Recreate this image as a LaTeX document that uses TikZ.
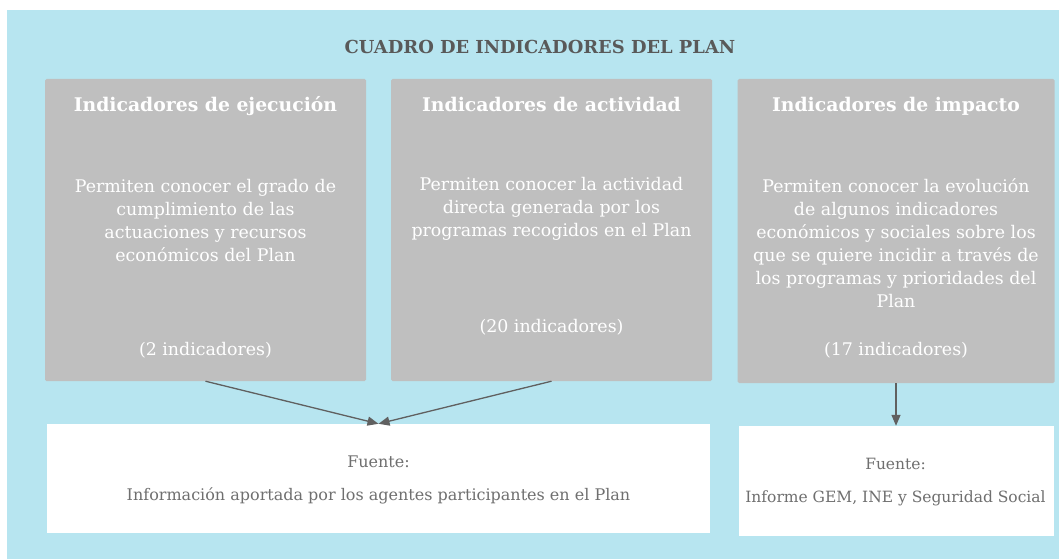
\documentclass[tikz,border=0pt]{standalone}
\usepackage{fontspec}
\setmainfont{DejaVu Serif}
\usepackage{xcolor}
\usetikzlibrary{positioning, arrows.meta, calc}
\definecolor{fondo}{HTML}{B7E5F0}
\definecolor{gris}{HTML}{BFBFBF}
\definecolor{grisosc}{HTML}{595959}
\definecolor{gristxt}{HTML}{6F6F6F}
\definecolor{flecha}{HTML}{606060}

\begin{document}
\begin{tikzpicture}[x=1pt, y=-1pt,
    caja/.style={rectangle, fill=gris, rounded corners=1.5pt, inner sep=0pt},
    fuente/.style={rectangle, fill=white, inner sep=0pt},
    cabecera/.style={text=white, anchor=base, inner sep=0pt, font=\fontsize{18.8}{22}\selectfont\bfseries},
    cuerpo/.style={text=white, align=center, inner sep=0pt, font=\fontsize{17.4}{23}\selectfont},
    texto/.style={text=gristxt, align=center, inner sep=0pt, font=\fontsize{16}{33}\selectfont},
    conector/.style={-{Triangle[length=11pt, width=9pt]}, draw=flecha, fill=flecha, line width=1.3pt}]
    \useasboundingbox (0,0) rectangle (1059,559);
    \fill[fondo] (7,10) rectangle (1059,559);

    \node (cuadro) at (540,47) [text=grisosc, font=\fontsize{17.9}{20}\selectfont\bfseries] {CUADRO DE INDICADORES DEL PLAN};

    \node (ejec) at (205.5,230) [caja, minimum width=321, minimum height=302] {};
    \node (act) at (551.5,230) [caja, minimum width=321, minimum height=302] {};
    \node (imp) at (896,231) [caja, minimum width=317, minimum height=304] {};

    \node (ejecT) at (205.5,112) [cabecera] {Indicadores de ejecución};
    \node (actT) at (551.5,112) [cabecera] {Indicadores de actividad};
    \node (impT) at (896,112) [cabecera] {Indicadores de impacto};

    \node (ejecD) at (205.5,220.5) [cuerpo] {Permiten conocer el grado de\\cumplimiento de las\\actuaciones y recursos\\económicos del Plan};
    \node (actD) at (551.5,209) [cuerpo] {Permiten conocer la actividad\\directa generada por los\\programas recogidos en el Plan};
    \node (impD) at (896,243) [cuerpo] {Permiten conocer la evolución\\de algunos indicadores\\económicos y sociales sobre los\\que se quiere incidir a través de\\los programas y prioridades del\\Plan};

    \node (ejecN) at (205.5,350) [cuerpo] {(2 indicadores)};
    \node (actN) at (551.5,327) [cuerpo] {(20 indicadores)};
    \node (impN) at (896,350) [cuerpo] {(17 indicadores)};

    \node (fuente1) at (378.5,478.5) [fuente, minimum width=663, minimum height=109] {};
    \node (fuente2) at (896,481) [fuente, minimum width=315, minimum height=110] {};

    \node (fuente1T) at (378.5,479.5) [texto] {Fuente:\\Información aportada por los agentes participantes en el Plan};
    \node (fuente2T) at (895.5,482.5) [texto, font=\fontsize{15.5}{33}\selectfont] {Fuente:\\Informe GEM, INE y Seguridad Social};

    \draw[conector] (ejec.south) -- (fuente1.north);
    \draw[conector] (act.south) -- (fuente1.north);
    \draw[conector] (imp.south) -- (fuente2.north);
\end{tikzpicture}
\end{document}
